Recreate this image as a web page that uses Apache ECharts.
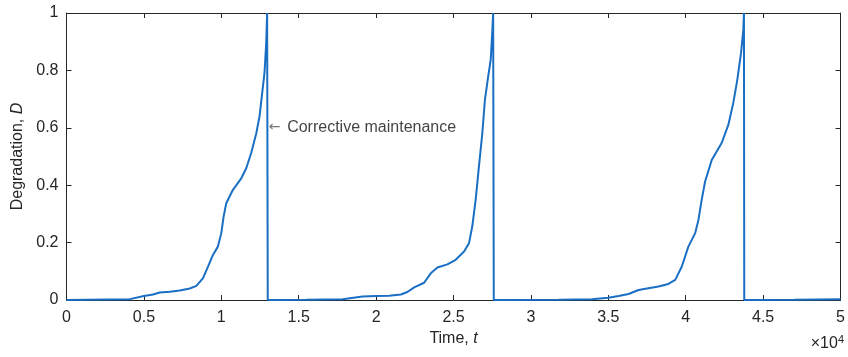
<!DOCTYPE html>
<html>
<head>
    <meta charset="utf-8">
    <title>Degradation</title>
    <script src="https://cdn.jsdelivr.net/npm/echarts@6/dist/echarts.min.js"></script>
    <style>
        html, body { margin: 0; padding: 0; background: #fff; }
        #main { width: 848px; height: 357px; }
    </style>
</head>
<body>
    <div id="main"></div>
    <script type="text/javascript">
        // time (t) and degradation (D)
        var timeValues = [
            0, 4090, 5000, 5590, 6020, 6670, 7310, 7960, 8390, 8820, 9140, 9460, 9780,
            10000, 10150, 10320, 10750, 11290, 11610, 11930, 12260, 12470, 12640, 12790, 12900, 12960,
            13000, 13000, 15500, 17840, 19120, 20000, 20840, 21600, 22020, 22460, 23100, 23530, 23960,
            24600, 25140, 25680, 26000, 26210, 26430, 26640, 26860, 27030, 27240, 27400, 27500, 27560,
            27600, 27600, 31800, 33940, 35000, 35660, 36310, 36950, 37490, 38240, 38880, 39320, 39740,
            40170, 40610, 40820, 41030, 41250, 41680, 42320, 42750, 43070, 43330, 43570, 43720, 43760,
            43780, 43780, 47000, 50000
        ];
        var degradationValues = [
            0, 0.003, 0.014, 0.019, 0.026, 0.029, 0.033, 0.040, 0.049, 0.076, 0.116, 0.157, 0.186,
            0.233, 0.291, 0.337, 0.384, 0.424, 0.459, 0.512, 0.581, 0.640, 0.721, 0.791, 0.895, 1.0,
            1.0, 0, 0.001, 0.003, 0.012, 0.014, 0.015, 0.019, 0.028, 0.044, 0.060, 0.093, 0.113,
            0.124, 0.140, 0.169, 0.198, 0.256, 0.349, 0.465, 0.581, 0.698, 0.779, 0.837, 0.930, 1.0,
            1.0, 0, 0.001, 0.003, 0.008, 0.014, 0.021, 0.035, 0.040, 0.047, 0.056, 0.070, 0.116,
            0.186, 0.233, 0.279, 0.349, 0.413, 0.488, 0.547, 0.610, 0.686, 0.767, 0.860, 0.942, 1.0,
            1.0, 0, 0.001, 0.003
        ];
        var xTicks = [0, 0.5, 1, 1.5, 2, 2.5, 3, 3.5, 4, 4.5, 5];
        var yTicks = [0, 0.2, 0.4, 0.6, 0.8, 1];
        var noteAt = [13000, 0.6];
        var noteText = 'Corrective maintenance';

        var axisColor = '#262626';
        var font = 'Arial, "Liberation Sans", Helvetica, sans-serif';

        var lineData = timeValues.map(function (t, i) { return [t, degradationValues[i]]; });

        var myChart = echarts.init(document.getElementById('main'));
        var option = {
            animation: false,
            textStyle: { fontFamily: font },
            grid: { left: 66.5, right: 7, top: 13, bottom: 57 },
            xAxis: [{
                type: 'value', min: 0, max: 50000, interval: 5000,
                axisLine: { show: true, onZero: false, lineStyle: { color: axisColor, width: 1 } },
                axisTick: { show: true, inside: true, length: 5, lineStyle: { color: axisColor } },
                axisLabel: {
                    color: axisColor, fontSize: 16, margin: 10, fontFamily: font,
                    formatter: function (v) { return String(xTicks[Math.round(v / 5000)]); }
                },
                splitLine: { show: false },
                name: '{n|Time, }{i|t}', nameLocation: 'middle', nameGap: 31,
                nameTextStyle: {
                    rich: {
                        n: { fontSize: 16, color: axisColor, fontFamily: font },
                        i: { fontSize: 16, color: axisColor, fontFamily: font, fontStyle: 'italic' }
                    }
                }
            }, {
                type: 'value', min: 0, max: 50000, interval: 5000, position: 'top',
                axisLine: { show: true, onZero: false, lineStyle: { color: axisColor, width: 1 } },
                axisTick: { show: true, inside: true, length: 5, lineStyle: { color: axisColor } },
                axisLabel: { show: false },
                splitLine: { show: false }
            }],
            yAxis: [{
                type: 'value', min: 0, max: 1, interval: 0.2,
                axisLine: { show: true, onZero: false, lineStyle: { color: axisColor, width: 1 } },
                axisTick: { show: true, inside: true, length: 5, lineStyle: { color: axisColor } },
                axisLabel: {
                    color: axisColor, fontSize: 16, margin: 8, fontFamily: font,
                    formatter: function (v) { return String(yTicks[Math.round(v / 0.2)]); }
                },
                splitLine: { show: false },
                name: '{n|Degradation, }{i|D}', nameLocation: 'middle', nameGap: 38,
                nameTextStyle: {
                    rich: {
                        n: { fontSize: 16, color: axisColor, fontFamily: font },
                        i: { fontSize: 16, color: axisColor, fontFamily: font, fontStyle: 'italic' }
                    }
                }
            }, {
                type: 'value', min: 0, max: 1, interval: 0.2, position: 'right',
                axisLine: { show: true, onZero: false, lineStyle: { color: axisColor, width: 1 } },
                axisTick: { show: true, inside: true, length: 5, lineStyle: { color: axisColor } },
                axisLabel: { show: false },
                splitLine: { show: false }
            }],
            graphic: [{
                type: 'text', right: 4, bottom: 5,
                style: {
                    text: '{a|×10}{b|4}',
                    rich: {
                        a: { fontSize: 16, fill: axisColor, fontFamily: font },
                        b: { fontSize: 11, fill: axisColor, fontFamily: font, verticalAlign: 'top', padding: [0, 0, 9, 0] }
                    }
                }
            }],
            series: [{
                type: 'line',
                data: lineData,
                showSymbol: false,
                lineStyle: { color: '#1a6fc4', width: 2 },
                z: 3
            }, {
                type: 'scatter',
                data: [noteAt],
                symbolSize: 0,
                silent: true,
                label: {
                    show: true, position: 'right', distance: 1,
                    formatter: '{a|←}  {t|' + noteText + '}',
                    rich: {
                        a: { fontSize: 14, color: '#555', fontFamily: '"DejaVu Sans", sans-serif' },
                        t: { fontSize: 16, color: '#111', fontFamily: font }
                    }
                }
            }]
        };
        myChart.setOption(option);
    </script>
</body>
</html>
